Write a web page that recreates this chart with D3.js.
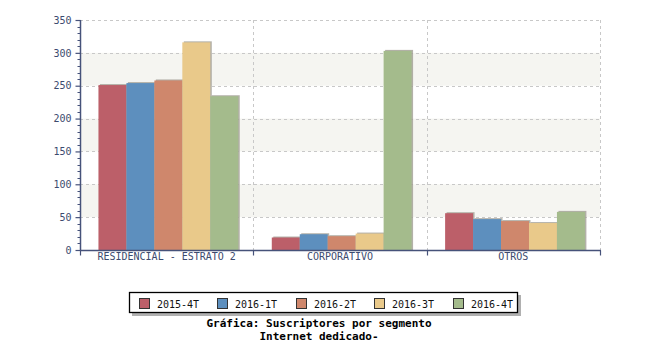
<!DOCTYPE html>
<html>
<head>
<meta charset="utf-8">
<script src="https://cdn.jsdelivr.net/npm/d3@7"></script>
<style>
  html, body { margin: 0; padding: 0; background: #fff; }
  svg { display: block; }
</style>
</head>
<body>
<svg id="chart" width="650" height="350"></svg>
<script>
// Suscriptores de Internet dedicado por segmento y trimestre
const categories = ["RESIDENCIAL - ESTRATO 2", "CORPORATIVO", "OTROS"];
const seriesNames = ["2015-4T", "2016-1T", "2016-2T", "2016-3T", "2016-4T"];
const v2015_4T = [251, 19, 56];
const v2016_1T = [254, 24, 47];
const v2016_2T = [258, 21, 44];
const v2016_3T = [316, 25, 41];
const v2016_4T = [234, 303, 58];
const yTicks = [0, 50, 100, 150, 200, 250, 300, 350];
const colors = ["#bc5f69", "#5d8fbe", "#cf876c", "#e9c98a", "#a4bb8c"];

const seriesValues = [v2015_4T, v2016_1T, v2016_2T, v2016_3T, v2016_4T];

const svg = d3.select("#chart");
const plotLeft = 80, plotRight = 600, plotTop = 20, plotBottom = 250;
const axisColor = "#46527a";
const labelColor = "#3c4a6e";
const mono = "'DejaVu Sans Mono', 'Liberation Mono', monospace";

const x0 = d3.scaleBand().domain(categories).range([plotLeft, plotRight]).paddingInner(0).paddingOuter(0);
const x1 = d3.scaleBand().domain(seriesNames).range([0, x0.bandwidth()])
  .paddingInner(0).paddingOuter(0.6).align(0.55);
const y = d3.scaleLinear().domain([0, 350]).range([plotBottom, plotTop]);

// alternating background stripes
const stripes = svg.append("g");
for (let i = 0; i < yTicks.length - 1; i++) {
  if (i % 2 === 1) {
    stripes.append("rect")
      .attr("x", plotLeft).attr("width", plotRight - plotLeft)
      .attr("y", y(yTicks[i + 1])).attr("height", y(yTicks[i]) - y(yTicks[i + 1]))
      .attr("fill", "#f5f5f1");
  }
}

// dashed grid
const grid = svg.append("g").attr("stroke", "#c8c8c8").attr("stroke-dasharray", "3,3").attr("stroke-width", 1);
yTicks.filter(t => t > 0).forEach(t => {
  grid.append("line").attr("x1", plotLeft).attr("x2", plotRight)
    .attr("y1", Math.round(y(t)) + 0.5).attr("y2", Math.round(y(t)) + 0.5);
});
categories.forEach(c => {
  const xx = Math.round(x0(c) + x0.bandwidth()) + 0.5;
  grid.append("line").attr("x1", xx).attr("x2", xx).attr("y1", plotTop).attr("y2", plotBottom);
});

// bars with a soft offset shadow
const bars = svg.append("g");
categories.forEach((c, ci) => {
  seriesNames.forEach((s, si) => {
    const v = seriesValues[si][ci];
    const bx = x0(c) + x1(s);
    const by = y(v);
    const bw = x1.bandwidth();
    bars.append("rect")
      .attr("x", bx + 1.5).attr("y", by - 1)
      .attr("width", bw).attr("height", plotBottom - by + 1)
      .attr("fill", "#a09e94").attr("opacity", 0.8);
    bars.append("rect")
      .attr("x", bx).attr("y", by)
      .attr("width", bw).attr("height", plotBottom - by)
      .attr("fill", colors[si]);
  });
});

// y axis
const yAxis = d3.axisLeft(y).tickValues(yTicks).tickSize(5).tickPadding(4);
const gy = svg.append("g").attr("transform", `translate(${plotLeft + 0.5},0)`).call(yAxis);
gy.select(".domain").attr("stroke", axisColor).attr("stroke-width", 1.5).attr("d", `M0,${plotTop}V${plotBottom}`);
gy.selectAll(".tick line").attr("stroke", axisColor).attr("stroke-width", 1.2);
gy.selectAll(".tick text").attr("fill", labelColor).style("font-family", mono).style("font-size", "10px");
// minor ticks every 10
const minor = d3.range(0, 351, 10).filter(v => v % 50 !== 0);
gy.selectAll(".minor").data(minor).enter().append("line")
  .attr("x1", -3).attr("x2", 0)
  .attr("y1", d => Math.round(y(d)) + 0.5).attr("y2", d => Math.round(y(d)) + 0.5)
  .attr("stroke", axisColor).attr("stroke-width", 1);

// x axis
const gx = svg.append("g").attr("transform", `translate(0,${plotBottom + 0.5})`);
gx.append("line").attr("x1", plotLeft).attr("x2", plotRight + 1).attr("y1", 0).attr("y2", 0)
  .attr("stroke", axisColor).attr("stroke-width", 1.5);
const bounds = [x0(categories[0])].concat(categories.map(c => x0(c) + x0.bandwidth()));
bounds.forEach(b => {
  gx.append("line").attr("x1", Math.round(b) + 0.5).attr("x2", Math.round(b) + 0.5)
    .attr("y1", 0).attr("y2", 5).attr("stroke", axisColor).attr("stroke-width", 1.2);
});
categories.forEach(c => {
  gx.append("text")
    .attr("x", x0(c) + x0.bandwidth() / 2).attr("y", 9.5)
    .attr("text-anchor", "middle")
    .attr("fill", labelColor)
    .style("font-family", mono).style("font-size", "10px")
    .text(c);
});

// legend
const lg = svg.append("g");
lg.append("rect").attr("x", 132).attr("y", 295).attr("width", 389).attr("height", 21).attr("fill", "#b0b0b0");
lg.append("rect").attr("x", 129.5).attr("y", 292.5).attr("width", 388).attr("height", 20)
  .attr("fill", "#fff").attr("stroke", "#000").attr("stroke-width", 1.3);
seriesNames.forEach((s, i) => {
  const lx = 138.5 + i * 78.5;
  lg.append("rect").attr("x", Math.round(lx) + 0.5).attr("y", 298.5).attr("width", 10).attr("height", 10)
    .attr("fill", colors[i]).attr("stroke", "#333").attr("stroke-width", 1);
  lg.append("text").attr("x", Math.round(lx) + 18).attr("y", 307.5)
    .attr("fill", "#111").style("font-family", mono).style("font-size", "10px").text(s);
});

// title
const title = svg.append("text").attr("text-anchor", "middle")
  .style("font-family", mono).style("font-size", "11px").style("font-weight", "bold").attr("fill", "#000");
title.append("tspan").attr("x", 319).attr("y", 326.5).text("Gráfica: Suscriptores por segmento");
title.append("tspan").attr("x", 319).attr("y", 339.5).text("Internet dedicado-");
</script>
</body>
</html>
